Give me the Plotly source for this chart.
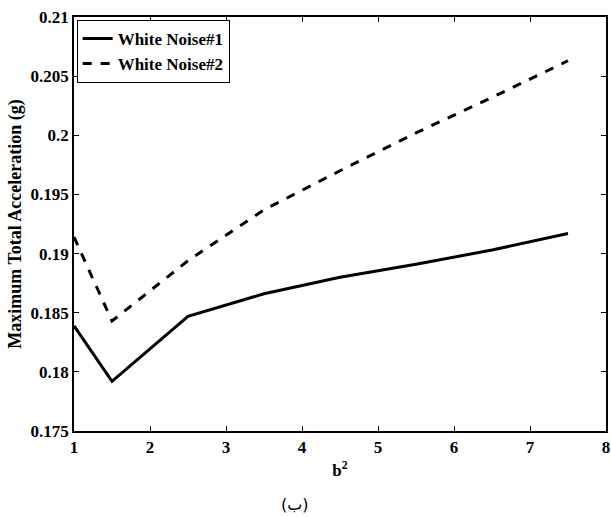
import plotly.graph_objects as go

b2 = [1, 1.5, 2.5, 3.5, 4.5, 5.5, 6.5, 7.5]
wn1 = [0.1839, 0.1792, 0.1847, 0.1866, 0.1880, 0.1891, 0.1903, 0.1917]
wn2 = [0.1914, 0.1843, 0.1894, 0.1937, 0.1970, 0.2002, 0.2032, 0.2063]
names = ["White Noise#1", "White Noise#2"]

x_ticks = [1, 2, 3, 4, 5, 6, 7, 8]
x_ticklabels = ["1", "2", "3", "4", "5", "6", "7", "8"]
y_ticks = [0.175, 0.18, 0.185, 0.19, 0.195, 0.2, 0.205, 0.21]
y_ticklabels = ["0.175", "0.18", "0.185", "0.19", "0.195", "0.2", "0.205", "0.21"]

FONT = "Liberation Serif"

fig = go.Figure()
fig.add_trace(go.Scatter(x=b2, y=wn1, mode="lines", name=names[0],
                         line=dict(color="black", width=3, dash="solid")))
fig.add_trace(go.Scatter(x=b2, y=wn2, mode="lines", name=names[1],
                         line=dict(color="black", width=3, dash="dash")))

axis_common = dict(showline=True, linecolor="black", linewidth=1.5, mirror="ticks",
                   ticks="inside", ticklen=5, tickcolor="black", showgrid=False,
                   zeroline=False, ticklabeloverflow="allow",
                   tickfont=dict(family=FONT, size=17, color="black", weight=700))

fig.update_xaxes(range=[1, 8], tickvals=x_ticks,
                 ticktext=["<b>%s</b>" % t for t in x_ticklabels],
                 title=dict(text="<b>b<sup>2</sup></b>", font=dict(family=FONT, size=17, color="black"),
                            standoff=8),
                 **axis_common)
fig.update_yaxes(range=[0.175, 0.21], tickvals=y_ticks,
                 ticktext=["<b>%s</b>" % t for t in y_ticklabels],
                 title=dict(text="<b>Maximum Total Acceleration (g)</b>",
                            font=dict(family=FONT, size=18, color="black"), standoff=4),
                 **axis_common)

fig.add_annotation(text="(ب)", xref="paper", yref="paper", x=0.416, y=-0.178,
                   yanchor="middle", showarrow=False,
                   font=dict(family="DejaVu Sans", size=16, color="black"))

fig.update_layout(
    width=611, height=517,
    margin=dict(l=74, r=1, t=17, b=86),
    plot_bgcolor="white", paper_bgcolor="white",
    legend=dict(x=0.005, y=0.993, xanchor="left", yanchor="top",
                bordercolor="black", borderwidth=1, bgcolor="white",
                font=dict(family=FONT, size=17, color="black", weight=700),
                tracegroupgap=0, itemwidth=30),
    showlegend=True,
)

fig.write_html("out.html")
